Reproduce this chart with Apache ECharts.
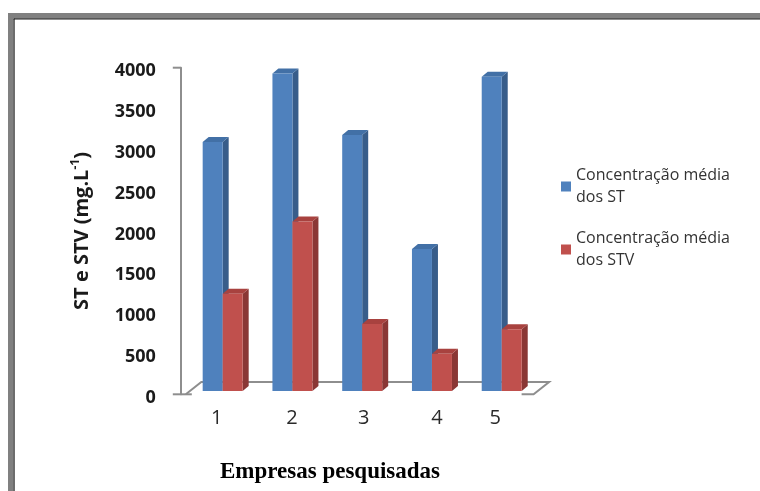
<!DOCTYPE html>
<html>
<head>
<meta charset="utf-8">
<script src="https://cdn.jsdelivr.net/npm/echarts@6/dist/echarts.min.js"></script>
<style>
  html, body { margin: 0; padding: 0; background: #ffffff; }
  #chart { width: 760px; height: 491px; }
</style>
</head>
<body>
<div id="chart"></div>
<script>
// Companies surveyed and mean concentrations (mg/L)
const categories = ['1', '2', '3', '4', '5'];
const stValues = [3050, 3890, 3135, 1740, 3850];
const stvValues = [1190, 2075, 820, 455, 755];
const seriesNames = ['Concentração média dos ST', 'Concentração média dos STV'];
const valueMin = 0;
const valueMax = 4000;
const valueStep = 500;

// 3D column look: front, side and top face colours
const faces = [
  { front: '#4F81BD', side: '#385D8A', top: '#4270A6' },
  { front: '#C0504D', side: '#8A3735', top: '#A8423F' }
];
const BAR_W = 20;      // front face width
const DEPTH_X = 6;     // side/top depth offset
const DEPTH_Y = 5;
const LIFT = 3.3;      // bars stand a bit behind the floor's front edge
const FLOOR_DX = 15.5; // floor depth
const FLOOR_DY = 12.3;
const AXIS_GRAY = '#8E8E8E';

// small horizontal nudges for the perspective category labels
const labelShift = [-12, -1, 3, 10, -13];

function barRenderer(side, faceSet) {
  return function (params, api) {
    const idx = api.value(0);
    const val = api.value(1);
    const base = api.coord([idx, 0]);
    const top = api.coord([idx, val]);
    const x0 = side === 0 ? base[0] - BAR_W : base[0];
    const x1 = x0 + BAR_W;
    const yb = base[1] - LIFT;
    const yt = top[1] - LIFT;
    return {
      type: 'group',
      children: [
        {
          type: 'polygon',
          shape: { points: [[x1, yb], [x1 + DEPTH_X, yb - DEPTH_Y], [x1 + DEPTH_X, yt - DEPTH_Y], [x1, yt]] },
          style: { fill: faceSet.side }
        },
        {
          type: 'polygon',
          shape: { points: [[x0, yt], [x0 + DEPTH_X, yt - DEPTH_Y], [x1 + DEPTH_X, yt - DEPTH_Y], [x1, yt]] },
          style: { fill: faceSet.top }
        },
        {
          type: 'rect',
          shape: { x: x0, y: yt, width: BAR_W, height: yb - yt },
          style: { fill: faceSet.front }
        }
      ]
    };
  };
}

// floor outline and value-axis end ticks
function floorRenderer(params, api) {
  const cs = params.coordSys;
  const y0 = api.coord([0, valueMin])[1];
  const yTop = api.coord([0, valueMax])[1];
  const axisX = cs.x - 7;
  const fl = cs.x - 2;
  const fr = cs.x + cs.width - 3;
  const st = { stroke: AXIS_GRAY, lineWidth: 2, fill: null };
  return {
    type: 'group',
    children: [
      { type: 'line', shape: { x1: axisX - 8, y1: yTop, x2: axisX, y2: yTop }, style: st },
      { type: 'line', shape: { x1: axisX - 8, y1: y0, x2: fl + 6, y2: y0 }, style: st },
      { type: 'polyline', shape: { points: [[fl, y0], [fl + FLOOR_DX, y0 - FLOOR_DY], [fr + FLOOR_DX, y0 - FLOOR_DY], [fr, y0], [fr - 12, y0]] }, style: st }
    ]
  };
}

const chart = echarts.init(document.getElementById('chart'), null, { renderer: 'canvas' });

chart.setOption({
  animation: false,
  backgroundColor: '#ffffff',
  graphic: [
    { type: 'line', shape: { x1: 10.5, y1: 13, x2: 10.5, y2: 500 }, style: { stroke: '#808080', lineWidth: 5 } },
    { type: 'line', shape: { x1: 8, y1: 15.5, x2: 770, y2: 15.5 }, style: { stroke: '#808080', lineWidth: 5 } },
    { type: 'line', shape: { x1: 14, y1: 18.5, x2: 14, y2: 500 }, style: { stroke: '#1E1E1E', lineWidth: 1.3 } },
    { type: 'line', shape: { x1: 13.5, y1: 18.8, x2: 770, y2: 18.8 }, style: { stroke: '#1E1E1E', lineWidth: 1.3 } },
    {
      type: 'text',
      x: 330, y: 472,
      style: {
        text: 'Empresas pesquisadas',
        font: 'bold 23px "Liberation Serif", "Times New Roman", serif',
        fill: '#000000',
        textAlign: 'center',
        textVerticalAlign: 'middle'
      }
    }
  ],
  legend: {
    orient: 'vertical',
    left: 561,
    top: 160,
    padding: 0,
    itemWidth: 10,
    itemHeight: 10,
    itemGap: 10,
    icon: 'rect',
    selectedMode: false,
    formatter: function (name) { return name.replace(' dos', '\ndos'); },
    textStyle: {
      fontFamily: '"Open Sans", "Noto Sans", sans-serif',
      fontSize: 16,
      lineHeight: 22,
      color: '#333333',
      padding: [9, 0, 0, 0]
    },
    data: seriesNames
  },
  grid: { left: 187.8, right: 223.4, top: 67.7, bottom: 96.7, containLabel: false },
  xAxis: {
    type: 'category',
    data: categories,
    axisLine: { show: false },
    axisTick: { show: false },
    splitLine: { show: false },
    axisLabel: {
      margin: 14,
      formatter: function (v, i) { return '{s' + i + '|' + v + '}'; },
      rich: (function () {
        const r = {};
        labelShift.forEach(function (d, i) {
          r['s' + i] = {
            fontFamily: '"Open Sans", "Noto Sans", sans-serif',
            fontSize: 20,
            color: '#2A2A2A',
            padding: d >= 0 ? [0, 0, 0, d] : [0, -d, 0, 0]
          };
        });
        return r;
      })()
    }
  },
  yAxis: {
    type: 'value',
    min: valueMin,
    max: valueMax,
    interval: valueStep,
    offset: 7,
    axisLine: { show: true, lineStyle: { color: AXIS_GRAY, width: 2 } },
    axisTick: { show: false },
    splitLine: { show: false },
    axisLabel: {
      margin: 25,
      formatter: function (v) { return '{v|' + v + '}'; },
      rich: {
        v: {
          fontFamily: '"Open Sans", "Noto Sans", sans-serif',
          fontWeight: 'bold',
          fontSize: 18,
          color: '#1A1A1A',
          lineHeight: 18,
          padding: [7, 0, 0, 0]
        }
      }
    },
    name: '{a|ST e STV (mg.L}{b|-1}{a|)}',
    nameLocation: 'middle',
    nameRotate: 90,
    nameGap: 87,
    nameTextStyle: {
      rich: {
        a: { fontFamily: '"Open Sans", "Noto Sans", sans-serif', fontWeight: 'bold', fontSize: 20, color: '#1A1A1A', lineHeight: 24 },
        b: { fontFamily: '"Open Sans", "Noto Sans", sans-serif', fontWeight: 'bold', fontSize: 12, color: '#1A1A1A', verticalAlign: 'top', lineHeight: 14 }
      }
    }
  },
  series: [
    {
      type: 'custom',
      name: 'floor',
      silent: true,
      z: 1,
      renderItem: floorRenderer,
      data: [[0, 0]],
      encode: { x: 0, y: 1 }
    },
    {
      type: 'custom',
      name: seriesNames[0],
      z: 2,
      itemStyle: { color: faces[0].front },
      renderItem: barRenderer(0, faces[0]),
      data: stValues.map(function (v, i) { return [i, v]; }),
      encode: { x: 0, y: 1 }
    },
    {
      type: 'custom',
      name: seriesNames[1],
      z: 2,
      itemStyle: { color: faces[1].front },
      renderItem: barRenderer(1, faces[1]),
      data: stvValues.map(function (v, i) { return [i, v]; }),
      encode: { x: 0, y: 1 }
    }
  ]
});
</script>
</body>
</html>
